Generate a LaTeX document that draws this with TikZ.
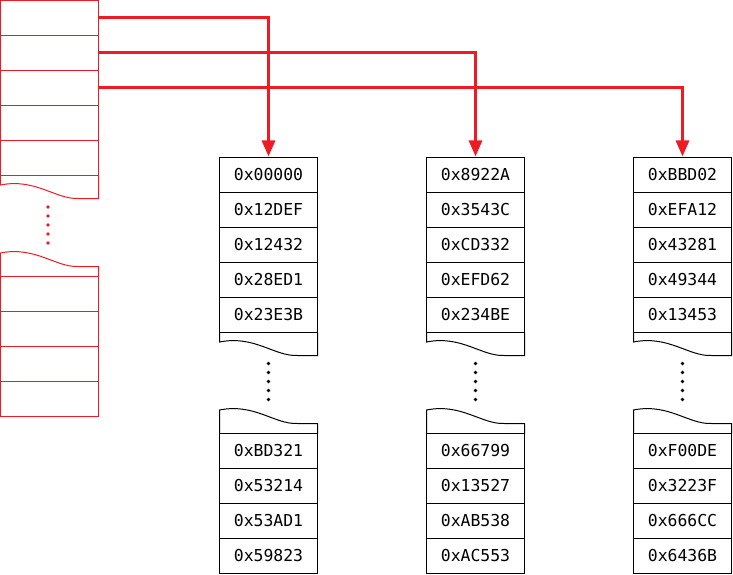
\documentclass[tikz,border=0pt]{standalone}
\usepackage{fontspec}
\setmonofont{DejaVu Sans Mono}
\usetikzlibrary{arrows.meta,calc}
\definecolor{ptrred}{RGB}{237,28,36}

% torn lower edge below cell #1
\newcommand\tornbelow[1]{%
  (#1.south west) -- ++(0,9.5)
  .. controls ($(#1.south west)+(35,2.5)$) and ($(#1.south west)+(55,24)$)
  .. ($(#1.south west)+(78,23)$) -- ($(#1.south east)+(0,23)$) -- (#1.south east)}
% torn upper edge above cell #1
\newcommand\tornabove[1]{%
  (#1.north west) -- ++(0,-23.5)
  .. controls ($(#1.north west)+(35,-30.5)$) and ($(#1.north west)+(55,-9)$)
  .. ($(#1.north west)+(78,-10)$) -- ($(#1.north east)+(0,-10)$) -- (#1.north east)}

\begin{document}
\begin{tikzpicture}[x=1bp,y=-1bp,
  cell/.style={draw, line width=1bp, minimum width=98bp, minimum height=35bp,
    inner sep=0pt, outer sep=0pt, anchor=north west,
    font=\ttfamily\fontsize{16.5}{19}\selectfont},
  redcell/.style={cell, draw=ptrred},
  tear/.style={line width=1bp},
  gapdot/.style={circle, fill, inner sep=0pt, minimum size=3.8bp},
  pointer/.style={draw=ptrred, line width=3bp, shorten >=1bp,
    -{Triangle[length=16bp,width=13bp]}}
]
\useasboundingbox (0,0) rectangle (733,575);

% pointer table
\foreach \i in {1,...,5}
  \node[redcell] (t\i) at (0.5,{0.5+35*(\i-1)}) {};
\foreach \i in {6,...,9}
  \node[redcell] (t\i) at (0.5,{276.5+35*(\i-6)}) {};
\draw[tear,ptrred] \tornbelow{t5};
\draw[tear,ptrred] \tornabove{t6};
\foreach \k in {0,...,4}
  \node[gapdot,fill=ptrred] (tdot\k) at (48,{207+9*\k}) {};

% block A
\foreach \t [count=\i] in {0x00000,0x12DEF,0x12432,0x28ED1,0x23E3B}
  \node[cell] (a\i) at (219.5,{157.5+35*(\i-1)}) {\t};
\foreach \t [count=\j] in {0xBD321,0x53214,0x53AD1,0x59823}
  \node[cell] (a\the\numexpr\j+5\relax) at (219.5,{433.5+35*(\j-1)}) {\t};

% block B
\foreach \t [count=\i] in {0x8922A,0x3543C,0xCD332,0xEFD62,0x234BE}
  \node[cell] (b\i) at (426.5,{157.5+35*(\i-1)}) {\t};
\foreach \t [count=\j] in {0x66799,0x13527,0xAB538,0xAC553}
  \node[cell] (b\the\numexpr\j+5\relax) at (426.5,{433.5+35*(\j-1)}) {\t};

% block C
\foreach \t [count=\i] in {0xBBD02,0xEFA12,0x43281,0x49344,0x13453}
  \node[cell] (c\i) at (633.5,{157.5+35*(\i-1)}) {\t};
\foreach \t [count=\j] in {0xF00DE,0x3223F,0x666CC,0x6436B}
  \node[cell] (c\the\numexpr\j+5\relax) at (633.5,{433.5+35*(\j-1)}) {\t};

% torn edges and elision dots of the blocks
\foreach \b/\cx in {a/268.5,b/475.5,c/682.5}{
  \draw[tear] \tornbelow{\b5};
  \draw[tear] \tornabove{\b6};
  \foreach \k in {0,...,4}
    \node[gapdot,fill=black] (\b dot\k) at (\cx,{363.5+9*\k}) {};
}

% pointers
\draw[pointer] (t1.east) -| (a1.north);
\draw[pointer] (t2.east) -| (b1.north);
\draw[pointer] (t3.east) -| (c1.north);
\end{tikzpicture}
\end{document}
